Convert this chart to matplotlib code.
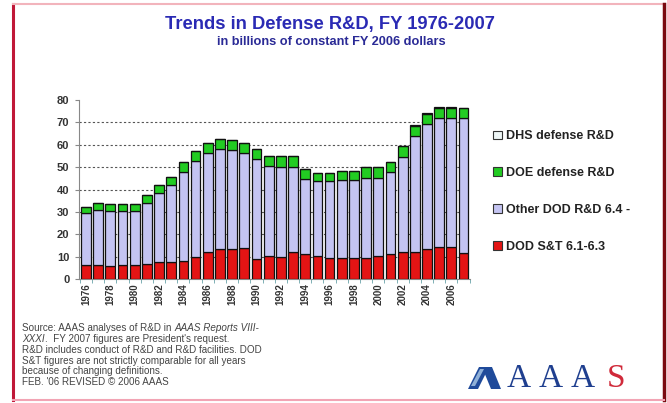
import matplotlib.pyplot as plt
import numpy as np
from matplotlib.patches import Patch, Polygon
from matplotlib.lines import Line2D

plt.rcParams['font.family'] = ['Liberation Sans', 'DejaVu Sans']

# Defense R&D by component, billions of constant FY 2006 dollars
years = list(range(1976, 2008))
dod_st = [6.2, 6.2, 5.9, 6.2, 6.2, 6.5, 7.4, 7.7, 8.0, 9.9, 11.9, 13.3, 13.3, 13.9, 8.9, 10.4,
          9.9, 11.9, 11.1, 10.4, 9.6, 9.2, 9.6, 9.2, 10.4, 11.1, 11.9, 12.1, 13.3, 14.4, 14.1, 11.4]
other_dod = [23.3, 24.8, 24.5, 24.2, 24.2, 27.4, 31.0, 34.1, 39.7, 42.7, 44.4, 44.8, 44.5, 42.4, 44.7, 40.0,
             40.0, 38.0, 33.6, 33.3, 34.1, 35.1, 34.7, 36.0, 34.8, 36.6, 42.5, 51.6, 55.9, 57.5, 58.0, 60.5]
doe = [2.9, 2.9, 3.2, 3.2, 2.9, 3.7, 3.8, 3.7, 4.4, 4.7, 4.4, 4.4, 4.4, 4.4, 4.5, 4.7,
       4.9, 4.9, 4.5, 3.7, 3.7, 3.8, 4.1, 4.7, 4.7, 4.4, 4.9, 4.9, 4.6, 4.7, 4.5, 4.4]
dhs = [0.0] * 27 + [0.3, 0.3, 0.3, 0.3, 0.3]

series_labels = ['DOD S&T 6.1-6.3', 'Other DOD R&D 6.4 -', 'DOE defense R&D', 'DHS defense R&D']
colors = ['#e41414', '#c4c4f2', '#22cc22', '#eef6f6']

W, H = 667, 403
fig = plt.figure(figsize=(W / 100, H / 100), dpi=100)
fig.patch.set_facecolor('white')


def fx(px):
    return px / W


def fy(py):
    return 1 - py / H


ax = fig.add_axes([fx(79), fy(279), fx(470) - fx(79), fy(100) - fy(279)])

x = np.arange(len(years))
bottom = np.zeros(len(years))
for vals, col in zip([dod_st, other_dod, doe, dhs], colors):
    vals = np.array(vals)
    ax.bar(x, vals, width=0.8, bottom=bottom, color=col, edgecolor='#111111', linewidth=0.9, zorder=3)
    bottom += vals

ax.set_xlim(-0.57, len(years) - 0.47)
ax.set_ylim(0, 80)
ax.set_yticks(range(0, 81, 10))
ax.set_yticklabels([str(v) for v in range(0, 81, 10)], fontsize=8, fontweight='bold', color='#333333')
for v in range(10, 80, 10):
    ax.axhline(v, color='#555555', linewidth=0.8, linestyle=(0, (2, 2)), zorder=1)

ax.set_xticks(x[::2])
ax.set_xticklabels([str(y) for y in years[::2]], rotation=90, fontsize=7, fontweight='bold', color='#333333')
ax.set_xticks(np.arange(-0.5, len(years), 1), minor=True)
ax.tick_params(axis='x', which='major', length=0, pad=3)
ax.tick_params(axis='x', which='minor', length=3, color='#6aa4aa')
ax.tick_params(axis='y', length=3, color='#888888', pad=4)

for side in ['top', 'right']:
    ax.spines[side].set_visible(False)
ax.spines['left'].set_color('#888888')
ax.spines['bottom'].set_color('#888888')

# legend, top entry first
handles = [Patch(facecolor=c, edgecolor='#333333', linewidth=0.8) for c in colors[::-1]]
fig.legend(handles, series_labels[::-1], loc='upper left', bbox_to_anchor=(fx(487), fy(124)),
           frameon=False, prop={'weight': 'bold', 'size': 9}, handlelength=0.7,
           handleheight=0.7, handletextpad=0.35, labelspacing=1.98, borderpad=0, labelcolor='#222222')

# titles
fig.text(fx(330), fy(25), 'Trends in Defense R&D, FY 1976-2007', ha='center', va='center',
         fontsize=13.2, fontweight='bold', color='#2a2ab4')
fig.text(fx(331), fy(42), 'in billions of constant FY 2006 dollars', ha='center', va='center',
         fontsize=9.2, fontweight='bold', color='#2a2a96')

# source note
note_color = '#444444'
fs = 7.1
fig.canvas.draw()
renderer = fig.canvas.get_renderer()
t1 = fig.text(fx(22), fy(328), 'Source: AAAS analyses of R&D in ', fontsize=fs, color=note_color, va='center')
bb = t1.get_window_extent(renderer)
fig.text(bb.x1 / W, fy(328), 'AAAS Reports VIII-', fontsize=fs, style='italic', color=note_color, va='center')
t2 = fig.text(fx(22), fy(339), 'XXXI', fontsize=fs, style='italic', color=note_color, va='center')
bb = t2.get_window_extent(renderer)
fig.text(bb.x1 / W, fy(339), '.  FY 2007 figures are President\'s request.', fontsize=fs,
         color=note_color, va='center')
note_lines = ['R&D includes conduct of R&D and R&D facilities. DOD',
              'S&T figures are not strictly comparable for all years',
              'because of changing definitions.',
              'FEB. \'06 REVISED \u00a9 2006 AAAS']
for i, line in enumerate(note_lines):
    fig.text(fx(22), fy(350 + i * 10.6), line, fontsize=fs, color=note_color, va='center')

# AAAS logo
emblem = [[(468, 389), (479, 367), (489, 367), (478, 389)],
          [(482, 367), (492, 367), (501, 389), (491, 389)]]
for pts in emblem:
    fig.add_artist(Polygon([(fx(a), fy(b)) for a, b in pts], closed=True, transform=fig.transFigure,
                           facecolor='#1f4a9a', edgecolor='none'))
fig.add_artist(Polygon([(fx(a), fy(b)) for a, b in [(471, 386), (480, 369), (484, 369), (475, 386)]],
                       closed=True, transform=fig.transFigure, facecolor='#8fb0d8', edgecolor='none'))
for cx, ch, col in zip([519, 551, 583, 616], 'AAAS', ['#1f3f8f', '#1f3f8f', '#1f3f8f', '#d02a3a']):
    fig.text(fx(cx), fy(379), ch, ha='center', va='center', fontsize=24,
             family='Liberation Serif', color=col)

# border
border = [((13, 4), (13, 400), '#c01838', 2.2),
          ((13, 4), (664, 4), '#f2b4bc', 1.5),
          ((664, 4), (664, 400), '#7a0a10', 2.5),
          ((13, 400), (664, 400), '#f2a4b4', 1.5)]
for (x0, y0), (x1, y1), col, lw in border:
    fig.add_artist(Line2D([fx(x0), fx(x1)], [fy(y0), fy(y1)], transform=fig.transFigure,
                          color=col, linewidth=lw))

fig.savefig('out.png', dpi=100, facecolor='white')
